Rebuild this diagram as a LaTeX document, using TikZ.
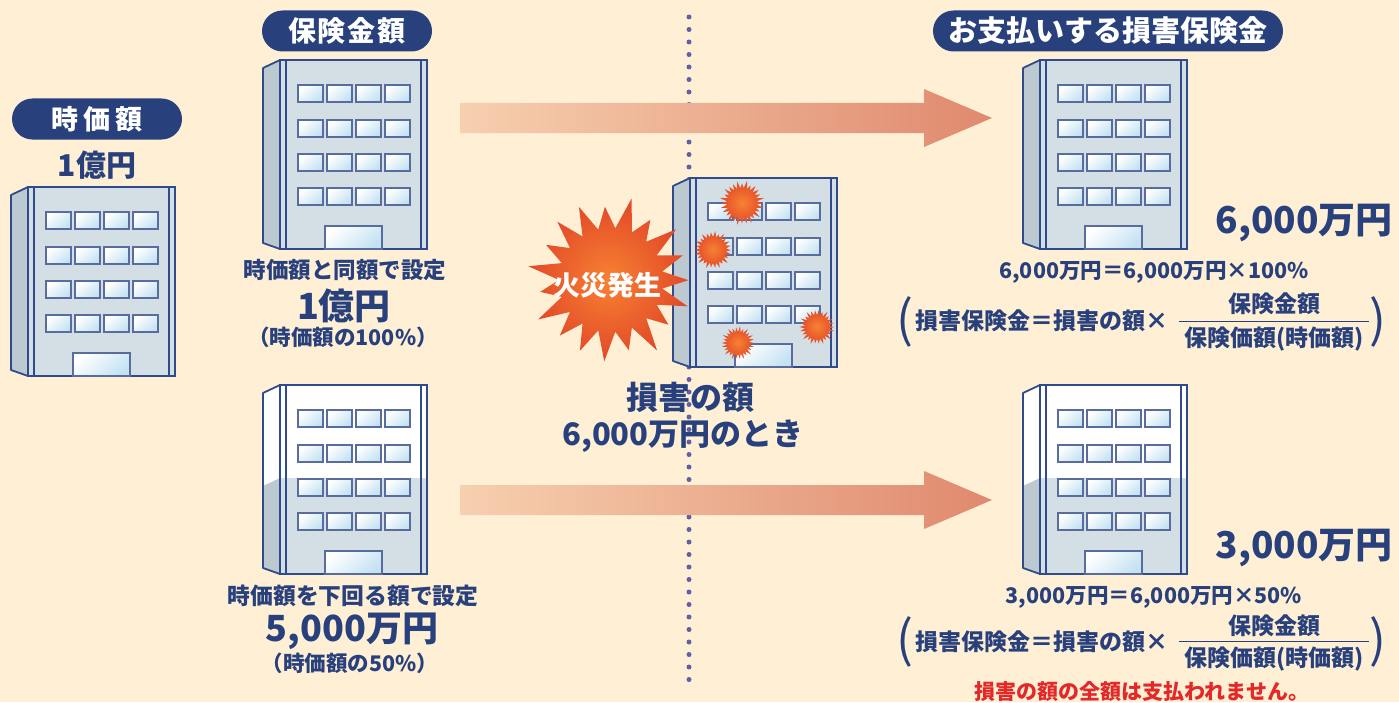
\documentclass[tikz,border=0pt]{standalone}
\usepackage{fontspec}
\setmainfont{Noto Sans CJK JP}
\usetikzlibrary{calc}
\definecolor{cream}{RGB}{255,240,213}
\definecolor{navy}{RGB}{40,64,124}
\definecolor{bldline}{RGB}{48,75,140}
\definecolor{facegray}{RGB}{211,222,229}
\definecolor{sidegray}{RGB}{189,201,208}
\definecolor{winblue}{RGB}{196,226,242}
\definecolor{winline}{RGB}{88,108,158}
\definecolor{arrowlight}{RGB}{246,208,175}
\definecolor{arrowdark}{RGB}{224,137,110}
\definecolor{dotblue}{RGB}{96,96,168}
\definecolor{firein}{RGB}{247,130,50}
\definecolor{fireout}{RGB}{226,72,40}
\definecolor{warnred}{RGB}{228,40,40}
\newcommand{\jsize}[1]{\fontsize{#1bp}{#1bp}\selectfont}
% spiky burst: centre, spikes, inner radius, outer radius
\newcommand{\burst}[4]{%
  \shade[inner color=firein, outer color=fireout, shift={(#1)}]
    (0:#4) \foreach \k in {1,...,#2} {
      -- ({(\k-0.5)*360/#2}:#3)
      -- ({\k*360/#2}:{#4*(1+0.08*sin(\k*151))})
    } -- cycle;}
% wide shaded arrow between two points
\newcommand{\fatarrow}[2]{%
  \shade[left color=arrowlight, right color=arrowdark]
    ($(#1)+(0,-15)$) -- ($(#2)+(-68,-15)$) -- ($(#2)+(-68,-29)$)
    -- (#2) -- ($(#2)+(-68,29)$) -- ($(#2)+(-68,15)$)
    -- ($(#1)+(0,15)$) -- cycle;}
\tikzset{
    txt/.style={
        text=navy,
        inner sep=0pt,
        font=\bfseries\jsize{#1}
    },
    pill/.style={
        fill=navy,
        text=white,
        rounded corners=20.5bp,
        minimum height=41bp,
        inner sep=0pt,
        font=\bfseries\jsize{#1}
    },
    paren/.style={
        text=navy,
        inner sep=0pt,
        font=\jsize{#1}
    },
    fracbar/.style={
        draw=navy,
        line width=1.4bp
    },
    dotline/.style={
        draw=dotblue,
        line width=5bp,
        line cap=round,
        dash pattern=on 0bp off 12.5bp
    },
    window/.style={
        draw=winline,
        line width=1.2bp,
        top color=white,
        bottom color=winblue,
        shading angle=40
    },
    pics/building/.style={code={
        % wall colours, the lower part grey from #1 down
        \fill[white] (0,0) -- (-17,8) -- (-17,183) -- (0,189) -- cycle;
        \fill[sidegray] (0,#1) -- (-17,{#1+8}) -- (-17,183) -- (0,189) -- cycle;
        \fill[white] (0,0) rectangle (147,189);
        \fill[facegray] (0,#1) rectangle (147,189);
        \draw[bldline, line width=1.8bp, line join=round]
            (0,0) -- (-17,8) -- (-17,183) -- (0,189);
        \draw[bldline, line width=2bp] (0,0) rectangle (147,189);
        \draw[bldline, line width=1.2bp] (6,0) -- (6,189) (141,0) -- (141,189);
        \foreach \wy in {25,60,94,128}
            \foreach \wx in {18,47,76,105}
                \shadedraw[window] (\wx,\wy) rectangle ++(25,17);
        \shadedraw[window] (45,166) rectangle (102,189);
    }}
}
\begin{document}
\begin{tikzpicture}[x=1bp, y=-1bp]
    \fill[cream] (0,0) rectangle (1399,702);
    \useasboundingbox (0,0) rectangle (1399,702);

    \coordinate (dottop) at (689,17);
    \coordinate (dotbot) at (689,690);
    \draw[dotline] (dottop) -- (dotbot);

    \coordinate (upfrom) at (460,118);
    \coordinate (upto) at (992,118);
    \coordinate (lowfrom) at (460,500);
    \coordinate (lowto) at (992,500);
    \fatarrow{upfrom}{upto}
    \fatarrow{lowfrom}{lowto}

    \pic (market) at (28,187) {building=0};
    \pic (fullcover) at (280,60) {building=0};
    \pic (halfcover) at (280,385) {building=93};
    \pic (burning) at (690,178) {building=0};
    \pic (paidfull) at (1040,60) {building=0};
    \pic (paidhalf) at (1040,385) {building=93};

    \coordinate (firec) at (611,280);
    \burst{firec}{19}{52}{78}
    \burst{742,203}{28}{15}{21}
    \burst{713,250}{26}{13}{18}
    \burst{817,327}{26}{12}{17}
    \burst{738,343}{26}{11}{16}
    \node[txt=27, text=white] (fire) at (607,285) {火災発生};

    \node[pill=27, minimum width=170bp] (marketpill) at (97,119)
        {時\kern5bp 価\kern5bp 額};
    \node[txt=30] (marketval) at (97,165) {1億円};
    \node[pill=28, minimum width=170bp] (sumpill) at (347,31)
        {保\kern2bp 険\kern2bp 金\kern2bp 額};
    \node[pill=29, minimum width=350bp] (paypill) at (1108,31)
        {お支払いする損害保険金};

    \node[txt=22.5] (sameset) at (345,270) {時価額と同額で設定};
    \node[txt=36] (sameamt) at (344,306) {1億円};
    \node[txt=21.5] (samepct) at (343,337) {（時価額の100\%）};
    \node[txt=22.8] (lowset) at (353,596) {時価額を下回る額で設定};
    \node[txt=36] (lowamt) at (352,631) {5,000万円};
    \node[txt=21.5] (lowpct) at (350,663) {（時価額の50\%）};

    \node[txt=32] (loss) at (690,397) {損害の額};
    \node[txt=31] (losswhen) at (683,436) {6,000万円のとき};

    % full cover payment
    \node[txt=37, anchor=east] (payA) at (1393,223) {6,000万円};
    \node[txt=21.5] (eqA) at (1154,272) {6,000万円＝6,000万円×100\%};
    \node[paren=50] (lpA) at (905,322) {(};
    \node[paren=50] (rpA) at (1378,322) {)};
    \node[txt=23] (lhsA) at (1042,321) {損害保険金＝損害の額×};
    \node[txt=23] (numA) at (1274,304) {保険金額};
    \node[txt=23] (denA) at (1274,339) {保険価額(時価額)};
    \draw[fracbar] ([xshift=-5bp, yshift=5bp]denA.north west)
        -- ([xshift=5bp, yshift=5bp]denA.north east);

    % half cover payment
    \node[txt=37, anchor=east] (payB) at (1393,548) {3,000万円};
    \node[txt=21.5] (eqB) at (1154,597) {3,000万円＝6,000万円×50\%};
    \node[paren=50] (lpB) at (905,642) {(};
    \node[paren=50] (rpB) at (1378,642) {)};
    \node[txt=23] (lhsB) at (1042,642) {損害保険金＝損害の額×};
    \node[txt=23] (numB) at (1274,626) {保険金額};
    \node[txt=23] (denB) at (1274,659) {保険価額(時価額)};
    \draw[fracbar] ([xshift=-5bp, yshift=5bp]denB.north west)
        -- ([xshift=5bp, yshift=5bp]denB.north east);
    \node[txt=21, text=warnred] (notall) at (1142,691)
        {損害の額の全額は支払われません。};
\end{tikzpicture}
\end{document}
